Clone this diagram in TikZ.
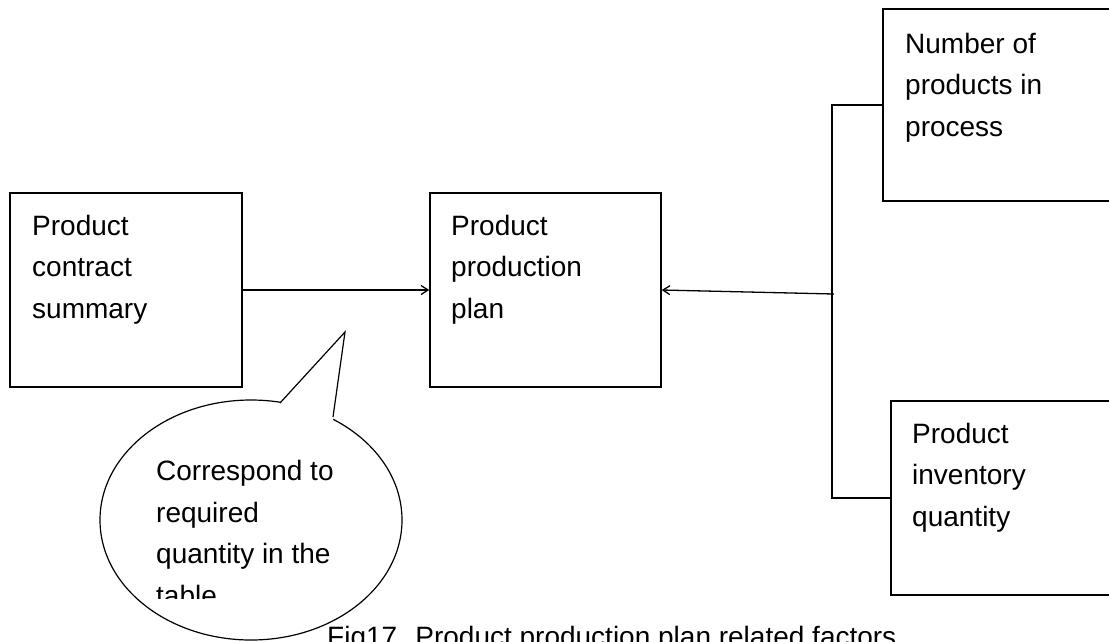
\documentclass[tikz,border=0pt]{standalone}
\usepackage{fontspec}
\setmainfont{Liberation Sans}
\usetikzlibrary{arrows.meta,calc,shapes.geometric}
\tikzset{
  boxnode/.style={draw, line width=1.5pt, rectangle, inner sep=0pt},
  txt/.style={anchor=north west, inner sep=0pt, align=left, font=\fontsize{28}{41.5}\selectfont},
  conn/.style={line width=1.3pt},
  arr/.style={line width=1.3pt, -{Straight Barb[length=7pt,width=9pt,line width=1.3pt]}},
}
\begin{document}
\begin{tikzpicture}[x=1pt,y=-1pt]
\useasboundingbox (0,0) rectangle (1109,641);
\clip (0,0) rectangle (1109,641);
% boxes
\node[boxnode, minimum width=232pt, minimum height=194pt] (boxA) at (126,290) {};
\node[boxnode, minimum width=231pt, minimum height=194pt] (boxB) at (545.5,290) {};
\node[boxnode, minimum width=250pt, minimum height=192pt] (boxC) at (1008,105) {};
\node[boxnode, minimum width=240pt, minimum height=194pt] (boxD) at (1011,498) {};
% texts
\node[txt] (tA) at (32,215) {Product\\contract\\summary};
\node[txt] (tB) at (451,215) {Product\\production\\plan};
\node[txt] (tC) at (905,33) {Number of\\products in\\process};
\node[txt] (tD) at (912,423) {Product\\inventory\\quantity};
% connectors
\coordinate (jm) at (832,294);
\coordinate (ja) at (834,294);
\draw[conn] (boxC.west) -| (jm) |- (boxD.west);
\draw[arr] (ja) -- (boxB.east);
\draw[arr] (boxA.east) -- (boxB.west);
% callout
\node[draw, ellipse, line width=1.2pt, fill=white, minimum width=302pt, minimum height=240pt, inner sep=0pt] (bubble) at (251,520) {};
\coordinate (tip) at (345,332);
\coordinate (bl) at (280,403);
\coordinate (br) at (333,417);
\fill[white] (bl) -- (tip) -- (br) -- ($(br)+(0,6)$) -- ($(bl)+(0,6)$) -- cycle;
\draw[line width=1.2pt, line join=miter] (bl) -- (tip) -- (br);
\begin{scope}
\clip (140,440) rectangle (420,598);
\node[txt] (tE) at (156,460) {Correspond to\\required\\quantity in the\\table};
\end{scope}
% caption
\node[anchor=base west, inner sep=0pt, font=\fontsize{28}{34}\selectfont] (cap) at (327,646) {Fig17. Product production plan related factors};
\end{tikzpicture}
\end{document}
